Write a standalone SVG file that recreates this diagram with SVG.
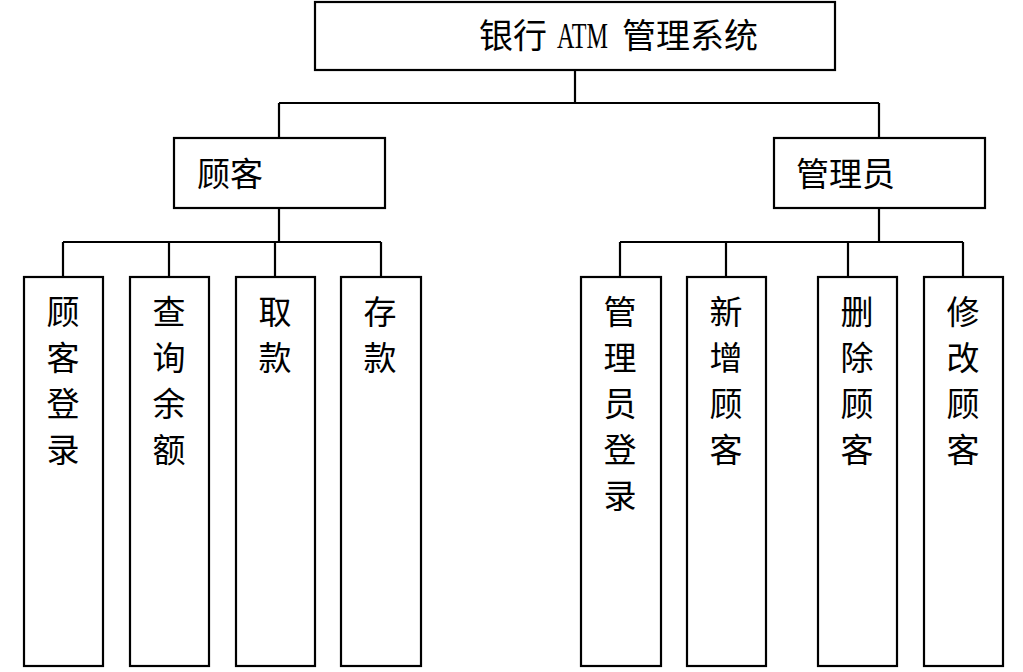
<svg xmlns="http://www.w3.org/2000/svg" width="1023" height="672" viewBox="0 0 1023 672">
<style>
.box{fill:#fff;stroke:#000;stroke-width:2.2}
.ln{fill:none;stroke:#000;stroke-width:2.2}
.t{font-family:"Noto Sans CJK SC","Liberation Serif",sans-serif;font-size:33px;fill:#000}
.v{text-anchor:middle}
.lat{font-family:"Liberation Serif",serif;font-size:35px;fill:#000}
</style>
<rect width="1023" height="672" fill="#fff"/>
<g id="connectors">
<path class="ln" d="M575,70V103M279,103H879M279,103V138M879,103V138"/>
<path class="ln" d="M279,208V242M63,242H381M63,242V277M169,242V277M275,242V277M381,242V277"/>
<path class="ln" d="M879,208V242M620,242H963M620,242V277M726,242V277M848,242V277M963,242V277"/>
</g>
<g id="root">
<rect class="box" x="315" y="2" width="520" height="68"/>
<text class="t" x="479" y="47.5" style="font-size:34px">银行</text>
<text class="lat" transform="translate(557,48) scale(0.69,1)">ATM</text>
<text class="t" x="622" y="47.5" style="font-size:34px">管理系统</text>
</g>
<g id="customer">
<rect class="box" x="174" y="138" width="211" height="70"/>
<text class="t" x="197" y="185.5">顾客</text>
</g>
<g id="admin">
<rect class="box" x="774" y="138" width="211" height="70"/>
<text class="t" x="796" y="185.5">管理员</text>
</g>
<g id="c1">
<rect class="box" x="24" y="277" width="79" height="389"/>
<text class="t v" x="63"><tspan x="63" y="323.5">顾</tspan><tspan x="63" y="369.5">客</tspan><tspan x="63" y="415.5">登</tspan><tspan x="63" y="461.5">录</tspan></text>
</g>
<g id="c2">
<rect class="box" x="130" y="277" width="79" height="389"/>
<text class="t v" x="169"><tspan x="169" y="323.5">查</tspan><tspan x="169" y="369.5">询</tspan><tspan x="169" y="415.5">余</tspan><tspan x="169" y="461.5">额</tspan></text>
</g>
<g id="c3">
<rect class="box" x="236" y="277" width="79" height="389"/>
<text class="t v" x="275"><tspan x="275" y="323.5">取</tspan><tspan x="275" y="369.5">款</tspan></text>
</g>
<g id="c4">
<rect class="box" x="341" y="277" width="80" height="389"/>
<text class="t v" x="380"><tspan x="380" y="323.5">存</tspan><tspan x="380" y="369.5">款</tspan></text>
</g>
<g id="a1">
<rect class="box" x="581" y="277" width="80" height="389"/>
<text class="t v" x="620"><tspan x="620" y="323.5">管</tspan><tspan x="620" y="369.5">理</tspan><tspan x="620" y="415.5">员</tspan><tspan x="620" y="461.5">登</tspan><tspan x="620" y="507.5">录</tspan></text>
</g>
<g id="a2">
<rect class="box" x="687" y="277" width="79" height="389"/>
<text class="t v" x="726"><tspan x="726" y="323.5">新</tspan><tspan x="726" y="369.5">增</tspan><tspan x="726" y="415.5">顾</tspan><tspan x="726" y="461.5">客</tspan></text>
</g>
<g id="a3">
<rect class="box" x="818" y="277" width="79" height="389"/>
<text class="t v" x="857"><tspan x="857" y="323.5">删</tspan><tspan x="857" y="369.5">除</tspan><tspan x="857" y="415.5">顾</tspan><tspan x="857" y="461.5">客</tspan></text>
</g>
<g id="a4">
<rect class="box" x="924" y="277" width="79" height="389"/>
<text class="t v" x="963"><tspan x="963" y="323.5">修</tspan><tspan x="963" y="369.5">改</tspan><tspan x="963" y="415.5">顾</tspan><tspan x="963" y="461.5">客</tspan></text>
</g>
</svg>
